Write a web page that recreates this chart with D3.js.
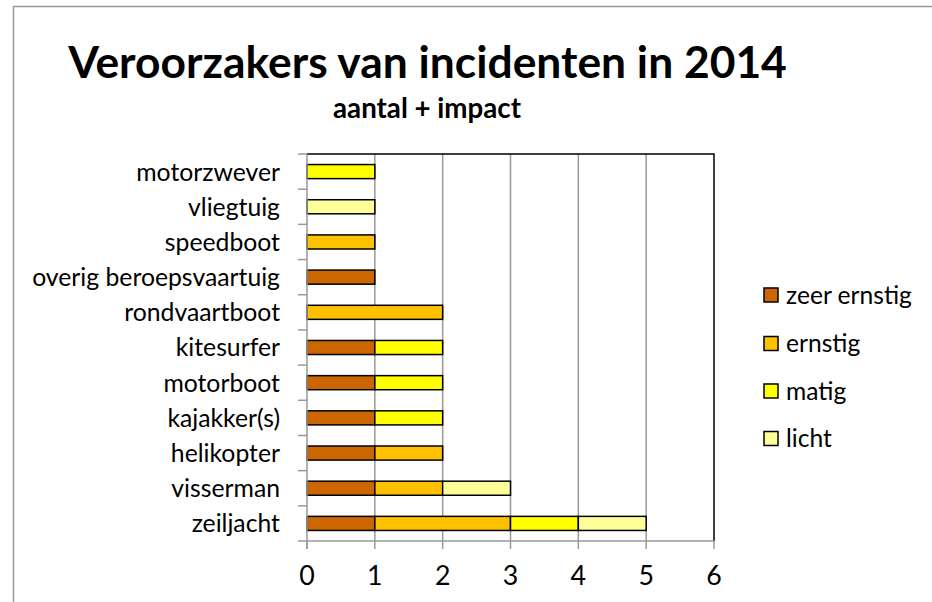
<!DOCTYPE html>
<html>
<head>
<meta charset="utf-8">
<script src="https://cdn.jsdelivr.net/npm/d3@7"></script>
<style>
  html, body { margin: 0; padding: 0; background: #fff; }
  svg { display: block; }
  text { font-family: Lato, "Open Sans", sans-serif; fill: #000; }
</style>
</head>
<body>
<svg id="chart" width="932" height="602"></svg>
<script>
const categories = ["motorzwever", "vliegtuig", "speedboot", "overig beroepsvaartuig", "rondvaartboot",
  "kitesurfer", "motorboot", "kajakker(s)", "helikopter", "visserman", "zeiljacht"];
const seriesNames = ["zeer ernstig", "ernstig", "matig", "licht"];
const zeerErnstig = [0, 0, 0, 1, 0, 1, 1, 1, 1, 1, 1];
const ernstig     = [0, 0, 1, 0, 2, 0, 0, 0, 1, 1, 2];
const matig       = [1, 0, 0, 0, 0, 1, 1, 1, 0, 0, 1];
const licht       = [0, 1, 0, 0, 0, 0, 0, 0, 0, 1, 1];
const xTicks = [0, 1, 2, 3, 4, 5, 6];
const colors = ["#CC6600", "#FFC000", "#FFFF00", "#FFFF99"];
const titleText = "Veroorzakers van incidenten in 2014";
const subtitleText = "aantal + impact";

const rows = categories.map((c, i) => ({
  cat: c,
  "zeer ernstig": zeerErnstig[i],
  "ernstig": ernstig[i],
  "matig": matig[i],
  "licht": licht[i]
}));

const svg = d3.select("#chart");
const plot = { left: 307, right: 714, top: 154, bottom: 541 };

// outer chart border
svg.append("path")
  .attr("d", `M13.5,602 V6.5 H932`)
  .attr("fill", "none").attr("stroke", "#999").attr("stroke-width", 1.5);

const x = d3.scaleLinear().domain([0, 6]).range([plot.left, plot.right]);
const y = d3.scaleBand().domain(categories).range([plot.top, plot.bottom])
  .paddingInner(0.6).paddingOuter(0.3);

// gridlines
svg.append("g").selectAll("line").data(xTicks.filter(t => t > 0 && t < 6)).join("line")
  .attr("x1", d => x(d)).attr("x2", d => x(d))
  .attr("y1", plot.top).attr("y2", plot.bottom)
  .attr("stroke", "#999").attr("stroke-width", 1.5);

// plot area top/right border
svg.append("path")
  .attr("d", `M${plot.left},${plot.top} H${plot.right} V${plot.bottom}`)
  .attr("fill", "none").attr("stroke", "#000").attr("stroke-width", 1.5);

// bars
const stacked = d3.stack().keys(seriesNames)(rows);
svg.append("g").selectAll("g").data(stacked).join("g")
  .attr("fill", (d, i) => colors[i])
  .selectAll("rect").data(d => d.filter(s => s[1] - s[0] > 0)).join("rect")
  .attr("x", d => x(d[0]))
  .attr("width", d => x(d[1]) - x(d[0]))
  .attr("y", d => y(d.data.cat))
  .attr("height", y.bandwidth())
  .attr("stroke", "#000").attr("stroke-width", 1.5);

// left axis
const step = y.step();
const leftAxis = svg.append("g");
leftAxis.append("line")
  .attr("x1", plot.left).attr("x2", plot.left)
  .attr("y1", plot.top).attr("y2", plot.bottom + 8)
  .attr("stroke", "#999").attr("stroke-width", 1.5);
const boundaries = d3.range(categories.length + 1).map(i => plot.top + i * step);
leftAxis.selectAll("line.tick").data(boundaries).join("line").attr("class", "tick")
  .attr("x1", plot.left - 9).attr("x2", plot.left)
  .attr("y1", d => d).attr("y2", d => d)
  .attr("stroke", "#999").attr("stroke-width", 1.5);
const catLabels = leftAxis.selectAll("text").data(categories).join("text")
  .attr("x", 280)
  .attr("y", d => y(d) + y.bandwidth() / 2)
  .attr("dy", "0.36em")
  .attr("text-anchor", "end")
  .style("font-size", "20px")
  .text(d => d);

// bottom axis
const bottomAxis = svg.append("g");
bottomAxis.append("line")
  .attr("x1", plot.left).attr("x2", plot.right)
  .attr("y1", plot.bottom).attr("y2", plot.bottom)
  .attr("stroke", "#999").attr("stroke-width", 1.5);
bottomAxis.selectAll("line.tick").data(xTicks).join("line").attr("class", "tick")
  .attr("x1", d => x(d)).attr("x2", d => x(d))
  .attr("y1", plot.bottom).attr("y2", plot.bottom + 8)
  .attr("stroke", "#999").attr("stroke-width", 1.5);
const tickLabels = bottomAxis.selectAll("text").data(xTicks).join("text")
  .attr("x", d => x(d))
  .attr("y", 585)
  .attr("text-anchor", "middle")
  .style("font-size", "21px")
  .text(d => d);

// legend
const legend = svg.append("g");
const legendY = [295, 343.5, 391, 438.5];
seriesNames.forEach((name, i) => {
  legend.append("rect")
    .attr("x", 764).attr("y", legendY[i] - 7)
    .attr("width", 14).attr("height", 14)
    .attr("fill", colors[i]).attr("stroke", "#000").attr("stroke-width", 1.5);
  legend.append("text").attr("class", "leg")
    .attr("x", 786).attr("y", legendY[i]).attr("dy", "0.36em")
    .style("font-size", "21px")
    .text(name);
});

// titles
const title = svg.append("text")
  .attr("x", 427.5).attr("y", 78)
  .attr("text-anchor", "middle").style("font-weight", "bold").style("font-size", "40px")
  .text(titleText);
const subtitle = svg.append("text")
  .attr("x", 427).attr("y", 118)
  .attr("text-anchor", "middle").style("font-weight", "bold").style("font-size", "20px")
  .text(subtitleText);

// fit font sizes to the reference widths
function fit(sel, targetW, base) {
  const w = sel.node().getComputedTextLength();
  return base * targetW / w;
}
title.style("font-size", fit(title, 719, 40) + "px");
subtitle.style("font-size", fit(subtitle, 188, 20) + "px");
const longest = catLabels.filter(d => d === "overig beroepsvaartuig");
const cSize = fit(longest, 248, 20);
catLabels.style("font-size", cSize + "px");
tickLabels.style("font-size", (cSize * 1.08) + "px");
const legTexts = legend.selectAll("text.leg");
const lSize = fit(d3.select(legTexts.nodes()[0]), 126, 21);
legTexts.style("font-size", lSize + "px");
</script>
</body>
</html>
